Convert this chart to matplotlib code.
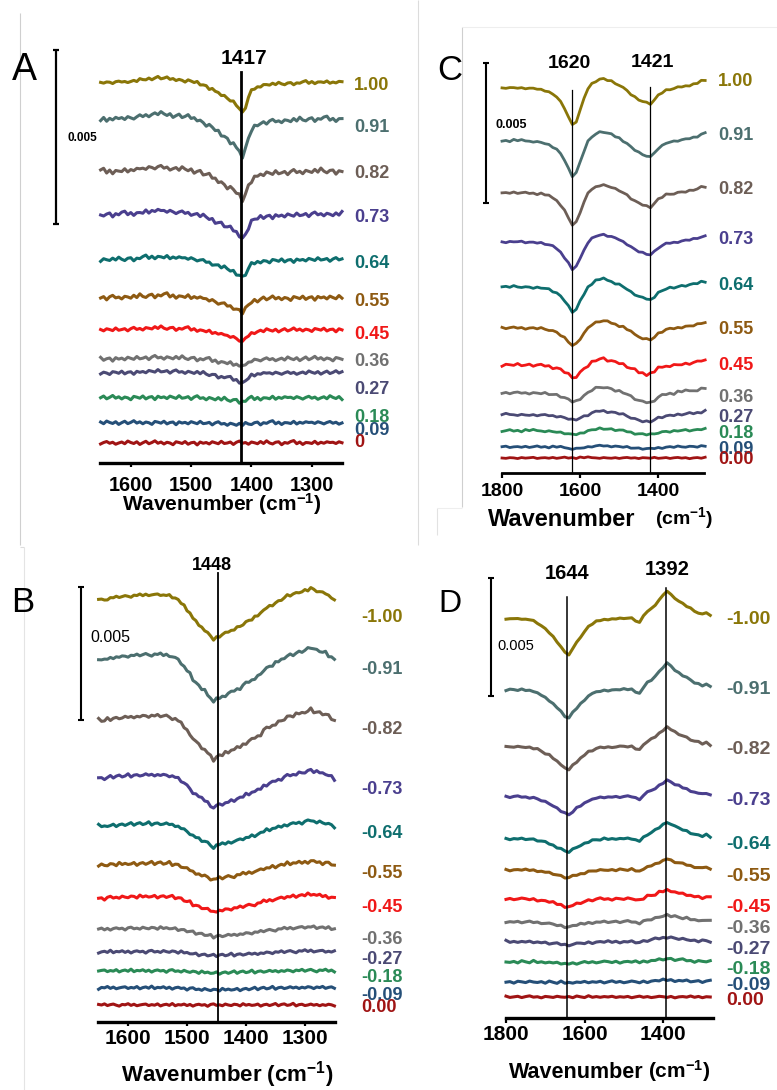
import numpy as np
import matplotlib
matplotlib.use("Agg")
import matplotlib.pyplot as plt
from matplotlib.lines import Line2D

plt.rcParams['font.family'] = ['Liberation Sans', 'DejaVu Sans']
plt.rcParams['mathtext.fontset'] = 'custom'
plt.rcParams['mathtext.rm'] = 'Liberation Sans'
plt.rcParams['mathtext.bf'] = 'Liberation Sans:bold'
plt.rcParams['mathtext.default'] = 'regular'

# ---------------------------------------------------------------- data
trace_colors = ['#8a7608', '#4c6f6f', '#6d5e56', '#4a3f8e', '#0e6e6e', '#8e5a12',
                '#f01818', '#717171', '#4b4a74', '#2a8a56', '#254f78', '#a01414']

labels_A = ['1.00', '0.91', '0.82', '0.73', '0.64', '0.55', '0.45', '0.36', '0.27', '0.18', '0.09', '0']
labels_C = ['1.00', '0.91', '0.82', '0.73', '0.64', '0.55', '0.45', '0.36', '0.27', '0.18', '0.09', '0.00']
labels_B = ['-1.00', '-0.91', '-0.82', '-0.73', '-0.64', '-0.55', '-0.45', '-0.36', '-0.27', '-0.18', '-0.09', '0.00']
labels_D = ['-1.00', '-0.91', '-0.82', '-0.73', '-0.64', '-0.55', '-0.45', '-0.36', '-0.27', '-0.18', '-0.09', '0.00']

# wavenumber grids (cm-1)
wn_A = np.arange(1650, 1249, -5)
wn_B = np.arange(1650, 1249, -5)
wn_C = np.arange(1800, 1279, -10)
wn_D = np.arange(1800, 1279, -10)

# band profiles, normalised to the main feature
band_A = [0.00, 0.01, 0.00, 0.02, 0.01, 0.03, 0.02, 0.04, 0.03, 0.05, 0.05,
          0.06, 0.07, 0.09, 0.10, 0.12, 0.13, 0.15, 0.16, 0.17, 0.16, 0.15,
          0.14, 0.13, 0.12, 0.11, 0.10, 0.09, 0.08, 0.07, 0.05, 0.03, 0.01,
          -0.03, -0.07, -0.11, -0.16, -0.21, -0.27, -0.33, -0.39, -0.45, -0.52, -0.58,
          -0.65, -0.74, -0.86, -1.00, -0.80, -0.50, -0.28, -0.20, -0.14, -0.10, -0.08,
          -0.06, -0.05, -0.05, -0.04, -0.04, -0.03, -0.03, -0.02, -0.02, -0.01, -0.01,
          0.00, 0.00, 0.01, 0.01, 0.02, 0.02, 0.02, 0.03, 0.03, 0.02, 0.02,
          0.01, 0.01, 0.02, 0.03]
depth_A = [0.86, 1.06, 0.80, 0.69, 0.52, 0.43, 0.34, 0.23, 0.29, 0.11, 0.06, 0.0]
noise_A = [0.06, 0.09, 0.10, 0.09, 0.08, 0.09, 0.07, 0.08, 0.07, 0.08, 0.07, 0.07]
ripple_A = [0.3, -0.2, 0.5, 0.1, -0.4, 0.2, 0.6, -0.1, 0.3, -0.5,
            0.0, 0.4, -0.3, 0.8, 0.2, -0.2, 0.5, -0.6, 0.1, 0.7,
            -0.3, 0.2, 0.9, -0.1, 0.4, -0.4, 0.3, 0.0, -0.7, 0.5,
            0.2, -0.2, 0.6, -0.5, 0.1, 0.3, -0.8, 0.4, -0.1, 0.2,
            -0.4, 0.5, 0.1, -0.3, 0.7, -0.2, 0.0, 0.4, -0.6, 0.3,
            0.8, -0.1, 0.2, -0.5, 0.4, 0.1, -0.3, 0.6, -0.2, 0.9,
            0.0, -0.4, 0.3, 0.5, -0.7, 0.2, -0.1, 0.6, 1.0, -0.3,
            0.4, -0.6, 0.2, 0.1, -0.2, 0.7, -0.4, 0.3, -0.1, 0.5,
            0.2]

band_B = [0.00, -0.02, -0.03, 0.00, 0.02, 0.03, 0.04, 0.05, 0.05, 0.06, 0.07,
          0.07, 0.08, 0.08, 0.09, 0.09, 0.10, 0.10, 0.10, 0.10, 0.10,
          0.10, 0.09, 0.09, 0.08, 0.05, 0.02, -0.03, -0.10, -0.18, -0.27,
          -0.35, -0.47, -0.55, -0.63, -0.70, -0.75, -0.82, -0.92, -1.00, -0.93,
          -0.90, -0.88, -0.84, -0.80, -0.77, -0.74, -0.70, -0.67, -0.62, -0.57,
          -0.53, -0.49, -0.45, -0.41, -0.35, -0.26, -0.22, -0.18, -0.14, -0.10,
          -0.06, -0.02, 0.02, 0.07, 0.09, 0.11, 0.13, 0.16, 0.17, 0.19,
          0.22, 0.27, 0.22, 0.19, 0.18, 0.15, 0.13, 0.08, 0.04, -0.03]
depth_B = [1.54, 1.62, 1.50, 1.13, 0.79, 0.56, 0.53, 0.30, 0.15, 0.08, 0.08, 0.0]
noise_B = [0.07, 0.09, 0.10, 0.09, 0.09, 0.10, 0.09, 0.08, 0.08, 0.08, 0.08, 0.07]
ripple_B = [-0.2, 0.4, 0.1, -0.5, 0.3, 0.0, 0.6, -0.3, 0.2, 0.5,
            -0.1, -0.6, 0.3, 0.1, 0.7, -0.2, 0.4, -0.4, 0.0, 0.3,
            0.5, -0.3, 0.2, -0.1, 0.6, -0.5, 0.1, 0.4, -0.2, 0.8,
            -0.4, 0.2, 0.0, 0.5, -0.3, 0.3, -0.6, 0.1, 0.4, -0.1,
            0.2, -0.7, 0.3, 0.6, -0.2, 0.1, -0.4, 0.5, 0.0, -0.3,
            0.4, 0.2, -0.5, 0.7, -0.1, 0.3, -0.2, 0.0, 0.5, -0.6,
            0.1, 0.4, -0.3, 0.2, 0.8, -0.4, 0.3, 0.6, -0.2, 0.1,
            0.9, -0.5, 0.2, 0.4, -0.3, 0.0, 0.5, -0.1, 0.3, -0.4,
            0.2]

band_C_1620 = [0.00, 0.00, 0.00, 0.01, 0.00, 0.00, -0.01, -0.01, -0.02, -0.03,
               -0.04, -0.07, -0.11, -0.17, -0.24, -0.38, -0.55, -0.78, -1.00, -0.91,
               -0.60, -0.29, -0.02,
               0, 0, 0, 0, 0, 0, 0, 0, 0, 0, 0, 0, 0, 0, 0,
               0, 0, 0, 0, 0, 0, 0, 0, 0, 0, 0, 0, 0, 0, 0]
band_C_1421 = [0, 0, 0, 0, 0, 0, 0, 0, 0, 0, 0, 0, 0, 0, 0, 0, 0, 0, 0, 0, 0, 0, 0,
               0.27, 0.43, 0.55, 0.57, 0.48, 0.41, 0.27, 0.18, 0.02, -0.16,
               -0.39, -0.57, -0.75, -0.86, -0.93, -1.00, -0.75, -0.45, -0.30, -0.14,
               -0.09, -0.05, 0.02, 0.07, 0.11, 0.16, 0.20, 0.27, 0.41, 0.45]
depth_C_1620 = [1.32, 1.25, 1.14, 1.00, 0.89, 0.64, 0.46, 0.32, 0.18, 0.14, 0.07, 0.0]
depth_C_1421 = [0.57, 0.57, 0.50, 0.46, 0.46, 0.43, 0.36, 0.36, 0.25, 0.14, 0.07, 0.0]
noise_C = [0.04, 0.05, 0.05, 0.05, 0.06, 0.06, 0.09, 0.07, 0.06, 0.06, 0.05, 0.04]
ripple_C = [0.1, -0.3, 0.4, 0.0, -0.2, 0.3, -0.4, 0.2, 0.5, -0.1,
            0.2, -0.5, 0.3, 0.1, -0.2, 0.6, -0.3, 0.0, 0.4, -0.4,
            0.2, 0.5, -0.1, 0.3, -0.6, 0.1, 0.4, -0.2, 0.7, 0.0,
            -0.3, 0.3, 0.1, -0.5, 0.4, -0.1, 0.2, 0.6, -0.4, 0.1,
            0.3, -0.2, 0.5, -0.3, 0.2, 0.8, -0.1, 0.4, -0.5, 0.9,
            0.2, 1.0, 0.3]

band_D_1644 = [0.00, 0.00, 0.01, 0.00, 0.00, -0.01, -0.02, -0.05, -0.11, -0.19,
               -0.28, -0.38, -0.49, -0.63, -0.77, -0.93, -1.00, -0.81, -0.65, -0.49,
               -0.35, -0.21, -0.14, -0.07, -0.04, -0.02, -0.01, 0.00, 0.00, 0.01,
               0.02, 0.02, 0.02,
               0, 0, 0, 0, 0, 0, 0, 0, 0, 0, 0, 0, 0, 0, 0, 0, 0, 0, 0, 0]
band_D_1392 = [0, 0, 0, 0, 0, 0, 0, 0, 0, 0, 0, 0, 0, 0, 0, 0, 0, 0, 0, 0,
               0, 0, 0, 0, 0, 0, 0, 0, 0, 0, 0, 0, 0,
               -0.06, -0.13, 0.09, 0.27, 0.37, 0.51, 0.67, 0.85, 1.00, 0.86,
               0.73, 0.64, 0.55, 0.46, 0.37, 0.27, 0.22, 0.15, 0.23, 0.12]
depth_D_1644 = [1.53, 1.19, 0.97, 0.76, 0.55, 0.34, 0.34, 0.21, 0.13, 0.08, 0.04, 0.0]
height_D_1392 = [1.19, 1.14, 0.85, 0.72, 0.72, 0.47, 0.38, 0.30, 0.21, 0.13, 0.08, 0.0]
noise_D = [0.04, 0.05, 0.06, 0.06, 0.06, 0.06, 0.08, 0.07, 0.08, 0.08, 0.08, 0.06]
ripple_D = [-0.2, 0.3, 0.0, 0.5, -0.3, 0.2, -0.1, 0.4, -0.5, 0.1,
            0.6, -0.2, 0.3, -0.4, 0.0, 0.5, 0.2, -0.3, 0.4, -0.6,
            0.1, 0.3, -0.1, 0.7, -0.2, 0.4, -0.5, 0.2, 0.0, 0.6,
            -0.3, 0.1, 0.5, -0.4, 0.3, 0.8, -0.1, 0.2, -0.6, 0.4,
            0.1, -0.3, 0.5, 0.0, -0.2, 0.3, -0.5, 0.7, 0.1, -0.4,
            0.9, -0.2, 0.3]

scale_bar = 5.0  # mAbs, i.e. 0.005 absorbance units


def build(bands, weights, noise, ripple):
    """Spectrum of each sample: weighted band profiles plus its own ripple."""
    rip = np.asarray(ripple, float)
    out = []
    for i in range(len(noise)):
        y = np.zeros(len(rip))
        for b, w in zip(bands, weights):
            y = y + w[i] * np.asarray(b, float)
        y = y + noise[i] * np.roll(rip, 7 * i)
        out.append(y)
    return out


spec_A = build([band_A], [depth_A], noise_A, ripple_A)
spec_B = build([band_B], [depth_B], noise_B, ripple_B)
spec_C = build([band_C_1620, band_C_1421], [depth_C_1620, depth_C_1421], noise_C, ripple_C)
spec_D = build([band_D_1644, band_D_1392], [depth_D_1644, height_D_1392], noise_D, ripple_D)

# ---------------------------------------------------------------- layout (pixels)
W, H = 777, 1090
PT = 100 / 72.0
fig = plt.figure(figsize=(W / 100, H / 100), dpi=100)


def fx(px):
    return px / W


def fy(py):
    return 1 - py / H


def ftext(x, y, s, size, ha='center', color='black', weight='bold'):
    # y is the centre of the digits / capitals
    fig.text(fx(x), fy(y + 0.36 * size * PT), s, fontsize=size, ha=ha, va='baseline',
             color=color, fontweight=weight)


def fline(x0, y0, x1, y1, color='black', lw=1.0):
    fig.add_artist(Line2D([fx(x0), fx(x1)], [fy(y0), fy(y1)], color=color, lw=lw,
                          transform=fig.transFigure, solid_capstyle='butt'))


def panel(spec, wn, labels, lay):
    left, right, axis_y, top, k = lay['left'], lay['right'], lay['axis_y'], lay['top'], lay['k']
    ax = fig.add_axes([fx(left), fy(axis_y), (right - left) / W, (axis_y - top) / H])
    ax.set_facecolor('none')
    ax.set_xlim(*lay['xlim'])
    ax.set_ylim(0, (axis_y - top) / k)

    def yd(py):
        return (axis_y - py) / k

    for i, y in enumerate(spec):
        ax.plot(wn, yd(lay['base'][i]) + y, color=trace_colors[i], lw=lay['lw'],
                solid_joinstyle='round', clip_on=False, zorder=2)
    for w, ytop in zip(lay['marks'], lay['mark_tops']):
        ax.plot([w, w], [0, yd(ytop)], color='black', lw=lay['mark_lw'], clip_on=False, zorder=3)

    for s in ['top', 'left', 'right']:
        ax.spines[s].set_visible(False)
    ax.spines['bottom'].set_linewidth(lay['spine_lw'])
    ax.set_yticks([])
    ax.set_xticks(lay['ticks'])
    ax.set_xticklabels([str(t) for t in lay['ticks']])
    fs = lay['tick_fs']
    ticklen = lay['ticklen']
    pad_px = lay['tick_cy'] - axis_y - 0.36 * fs * PT - ticklen
    ax.tick_params(axis='x', direction='out', length=ticklen / PT, width=lay['tick_w'],
                   pad=pad_px / PT, labelsize=fs)
    for t in ax.get_xticklabels():
        t.set_fontweight('bold')

    # trace labels
    for i, s in enumerate(labels):
        ftext(lay['lab_x'], lay['lab_y'][i], s, lay['lab_fs'], ha='left', color=trace_colors[i])

    # scale bar
    bx, by = lay['bar']
    by2 = by + scale_bar * k
    fline(bx, by, bx, by2, lw=lay['bar_lw'])
    fline(bx - 3, by, bx + 3, by, lw=lay['bar_lw'])
    fline(bx - 3, by2, bx + 3, by2, lw=lay['bar_lw'])
    return ax


lay_A = dict(left=100, right=342, axis_y=463, top=30, k=174 / 5.0, xlim=(1651, 1250),
             base=[83, 120, 172, 215, 260, 298, 330, 359, 373, 398, 423, 443],
             lab_x=354, lab_y=[83, 126, 172, 215, 262, 300, 333, 359, 388, 415, 429, 440], lab_fs=13,
             marks=[1417], mark_tops=[72], mark_lw=2.0, lw=2.2, spine_lw=2.4,
             ticks=[1600, 1500, 1400, 1300], tick_fs=14.3, tick_cy=483, ticklen=4, tick_w=1.6,
             bar=(56, 50), bar_lw=1.6)
lay_C = dict(left=502, right=704, axis_y=473, top=40, k=140 / 5.0, xlim=(1800, 1283),
             base=[88, 141, 193, 242, 287, 328, 365, 393, 415, 431, 447, 458],
             lab_x=718, lab_y=[80, 133, 187, 237, 283, 327, 364, 395, 415, 431, 447, 457], lab_fs=13,
             marks=[1620, 1421], mark_tops=[90, 87], mark_lw=0.9, lw=2.0, spine_lw=2.0,
             ticks=[1800, 1600, 1400], tick_fs=14, tick_cy=490, ticklen=5, tick_w=1.6,
             bar=(486, 63), bar_lw=1.5)
lay_B = dict(left=98, right=335, axis_y=1022, top=550, k=133 / 5.0, xlim=(1651, 1249),
             base=[599, 659, 720, 778, 826, 865, 898, 929, 952, 971, 988, 1005],
             lab_x=361, lab_y=[616, 668, 728, 787, 832, 872, 905, 937, 957, 975, 993, 1005], lab_fs=13,
             marks=[1448], mark_tops=[573], mark_lw=1.3, lw=2.2, spine_lw=2.4,
             ticks=[1600, 1500, 1400, 1300], tick_fs=15, tick_cy=1037, ticklen=4, tick_w=1.6,
             bar=(81, 587), bar_lw=1.5)
lay_D = dict(left=506, right=713, axis_y=1018, top=560, k=118 / 5.0, xlim=(1800, 1273),
             base=[619, 690, 747, 797, 839, 870, 899, 922, 942, 962, 982, 997],
             lab_x=726, lab_y=[617, 687, 747, 798, 842, 874, 905, 926, 947, 967, 983, 998], lab_fs=14,
             marks=[1644, 1392], mark_tops=[597, 588], mark_lw=1.1, lw=2.2, spine_lw=2.4,
             ticks=[1800, 1600, 1400], tick_fs=15, tick_cy=1033, ticklen=5, tick_w=1.6,
             bar=(491, 578), bar_lw=1.5)

panel(spec_A, wn_A, labels_A, lay_A)
panel(spec_C, wn_C, labels_C, lay_C)
panel(spec_B, wn_B, labels_B, lay_B)
panel(spec_D, wn_D, labels_D, lay_D)

# panel letters
ftext(24, 67, 'A', 27, weight='normal')
ftext(450, 67, 'C', 25, weight='normal')
ftext(23, 600, 'B', 25, weight='normal')
ftext(450, 601, 'D', 23, weight='normal')

# band position labels
ftext(244, 56, '1417', 15)
ftext(569, 61, '1620', 14)
ftext(652, 60, '1421', 14)
ftext(212, 563, '1448', 13)
ftext(567, 572, '1644', 14.5)
ftext(667, 568, '1392', 14.5)

# scale-bar values
ftext(82, 137, '0.005', 8.5)
ftext(511, 123, '0.005', 9)
ftext(110, 636, '0.005', 11.5, weight='normal')
ftext(516, 645, '0.005', 10.5, weight='normal')

# axis titles
ftext(222, 503, 'Wavenumber (cm$^{-1}$)', 15)
ftext(227, 1074, 'Wavenumber (cm$^{-1}$)', 16)
ftext(488, 517, 'Wavenumber', 17, ha='left')
ftext(655, 517, '(cm$^{-1}$)', 14, ha='left')
ftext(509, 1070, 'Wavenumber', 15.5, ha='left')
ftext(648, 1070, '(cm$^{-1}$)', 15, ha='left')

# faint frames around the sub-figures
fline(20, 13, 20, 545, color='#cfcfcf', lw=0.8)
fline(418, 0, 418, 545, color='#dcdcdc', lw=0.8)
fline(462, 27, 462, 507, color='#cfcfcf', lw=0.8)
fline(462, 27, 777, 27, color='#eeeeee', lw=0.8)
fline(437, 508, 437, 535, color='#e2e2e2', lw=0.8)
fline(437, 508, 462, 508, color='#eeeeee', lw=0.8)
fline(20, 547, 24, 547, color='#dddddd', lw=0.8)
fline(24, 547, 24, 1090, color='#e4e4e4', lw=0.8)

fig.savefig('out.png', dpi=100)
